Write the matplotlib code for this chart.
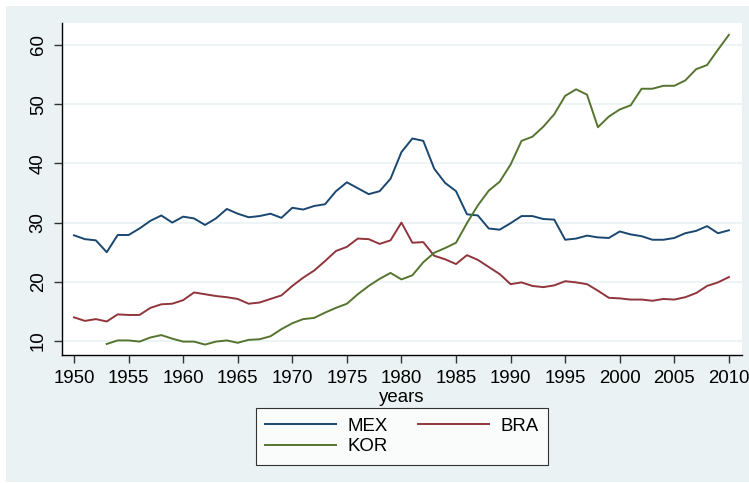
import matplotlib
matplotlib.use("Agg")
import matplotlib.pyplot as plt
from matplotlib.patches import Rectangle

# Datos
years = list(range(1950, 2011))
kor_years = list(range(1953, 2011))

mex = [27.85, 27.2, 27.0, 25.0, 27.9, 27.9, 29.0, 30.3, 31.2, 30.0,
       31.0, 30.7, 29.6, 30.7, 32.3, 31.5, 30.9, 31.1, 31.5, 30.8,
       32.5, 32.2, 32.8, 33.1, 35.3, 36.8, 35.8, 34.8, 35.3, 37.4,
       41.9, 44.2, 43.8, 39.1, 36.7, 35.3, 31.4, 31.2, 29.0, 28.8,
       29.9, 31.1, 31.1, 30.6, 30.5, 27.1, 27.3, 27.8, 27.5, 27.4,
       28.5, 28.0, 27.7, 27.1, 27.1, 27.4, 28.2, 28.6, 29.4, 28.2,
       28.7]

bra = [14.0, 13.4, 13.7, 13.3, 14.5, 14.4, 14.4, 15.6, 16.2, 16.3,
       16.9, 18.2, 17.9, 17.6, 17.4, 17.1, 16.3, 16.5, 17.1, 17.7,
       19.3, 20.7, 21.9, 23.5, 25.2, 25.9, 27.3, 27.2, 26.4, 27.0,
       30.0, 26.6, 26.7, 24.4, 23.8, 23.0, 24.5, 23.7, 22.5, 21.3,
       19.6, 19.9, 19.3, 19.1, 19.4, 20.1, 19.9, 19.6, 18.5, 17.3,
       17.2, 17.0, 17.0, 16.8, 17.1, 17.0, 17.4, 18.1, 19.3, 19.9,
       20.8]

kor = [9.5, 10.1, 10.1, 9.9, 10.6, 11.0, 10.4,
       9.9, 9.9, 9.4, 9.9, 10.1, 9.7, 10.2, 10.3, 10.8, 12.0,
       13.0, 13.7, 13.9, 14.8, 15.6, 16.3, 17.9, 19.3, 20.5, 21.5,
       20.4, 21.1, 23.3, 24.9, 25.7, 26.6, 29.9, 32.9, 35.4, 36.9,
       39.8, 43.8, 44.5, 46.2, 48.3, 51.4, 52.5, 51.6, 46.1, 47.9,
       49.1, 49.8, 52.6, 52.6, 53.1, 53.1, 54.0, 55.9, 56.6, 59.2,
       61.7]

x_ticks = list(range(1950, 2011, 5))
y_ticks = [10, 20, 30, 40, 50, 60]

bg = "#EAF2F3"
W, H = 749, 483

fig = plt.figure(figsize=(W / 100, H / 100), dpi=100, facecolor="white")
# fondo gris azulado con un pequeño margen blanco arriba y a la izquierda
fig.patches.append(Rectangle((6 / W, 1 / H), 1 - 6 / W, 1 - 7 / H,
                             transform=fig.transFigure, facecolor=bg,
                             edgecolor="none", zorder=-10))

# área del gráfico en píxeles: x 62-742, y 23-355
ax = fig.add_axes([62 / W, 1 - 355 / H, (742 - 62) / W, (355 - 23) / H])
ax.set_facecolor("white")

l_mex, = ax.plot(years, mex, color="#1a476f", lw=1.4, label="MEX")
l_bra, = ax.plot(years, bra, color="#90353b", lw=1.4, label="BRA")
l_kor, = ax.plot(kor_years, kor, color="#55752f", lw=1.4, label="KOR")

ax.set_xlim(1948.9, 2011.2)
ax.set_ylim(7.64, 63.7)
ax.set_xticks(x_ticks)
ax.set_yticks(y_ticks)
ax.grid(axis="y", color=bg, lw=1.2)
ax.set_axisbelow(True)

for s in ["top", "right"]:
    ax.spines[s].set_visible(False)
for s in ["left", "bottom"]:
    ax.spines[s].set_color("black")
    ax.spines[s].set_linewidth(1.0)

font = "Liberation Sans"
ax.tick_params(axis="both", length=6, width=1.0, color="#333333", labelsize=13.4, pad=5)
for lab in ax.get_xticklabels() + ax.get_yticklabels():
    lab.set_family(font)
for lab in ax.get_yticklabels():
    lab.set_rotation(90)
    lab.set_va("center")

ax.set_xlabel("years", fontsize=13.4, family=font, labelpad=1)

# orden por columnas: MEX/KOR en la primera, BRA en la segunda
leg = fig.legend([l_mex, l_kor, l_bra], ["MEX", "KOR", "BRA"],
                 loc="center", bbox_to_anchor=(402 / W, 1 - 436.5 / H), ncol=2,
                 prop={"family": font, "size": 13.4}, frameon=True, fancybox=False,
                 handlelength=3.8, handletextpad=0.65, columnspacing=1.6,
                 labelspacing=0.2, borderpad=0.5)
leg.get_frame().set_edgecolor("black")
leg.get_frame().set_linewidth(0.8)
for line in leg.get_lines():
    line.set_linewidth(1.4)

fig.savefig("out.png", dpi=100, facecolor="white")
